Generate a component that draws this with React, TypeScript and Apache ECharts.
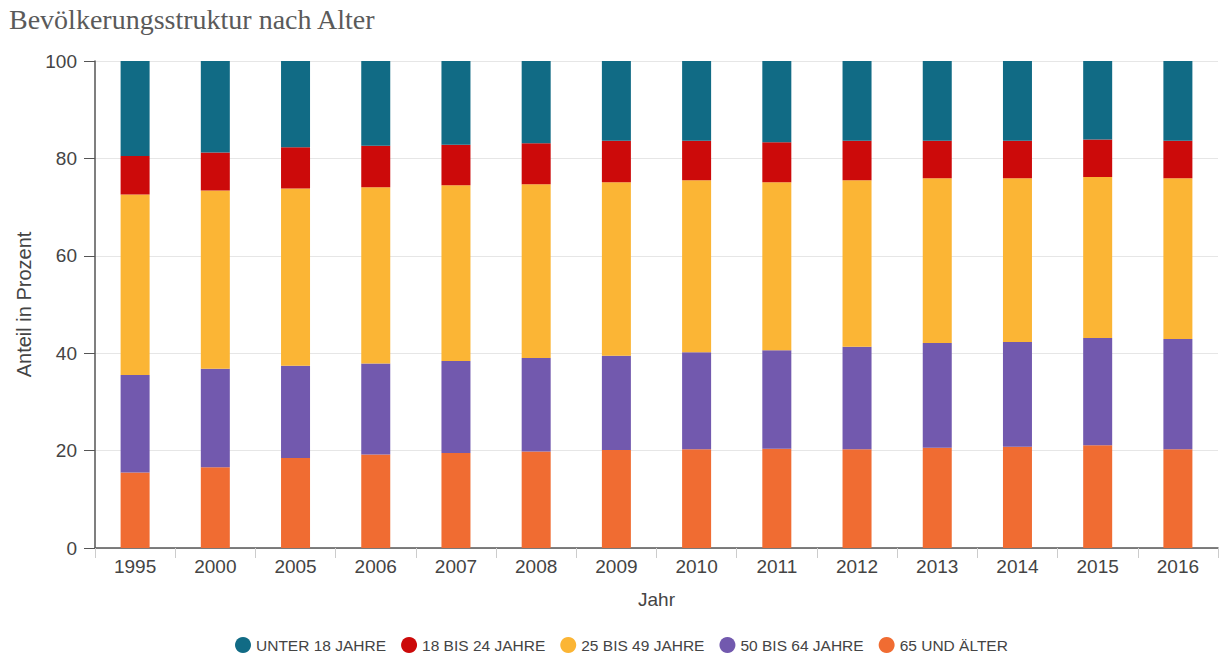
import React, { useEffect, useRef } from "react";
import * as echarts from "echarts";

const years = ["1995", "2000", "2005", "2006", "2007", "2008", "2009", "2010", "2011", "2012", "2013", "2014", "2015", "2016"];

// Shares in percent per age group (stacked bottom to top: 65+, 50–64, 25–49, 18–24, under 18)
const age65plus = [15.5, 16.6, 18.5, 19.2, 19.5, 19.8, 20.1, 20.3, 20.4, 20.3, 20.6, 20.8, 21.1, 20.3];
const age50to64 = [20.0, 20.2, 18.9, 18.7, 18.9, 19.2, 19.4, 19.9, 20.2, 21.0, 21.5, 21.5, 22.0, 22.6];
const age25to49 = [37.1, 36.6, 36.4, 36.2, 36.1, 35.7, 35.6, 35.3, 34.5, 34.2, 33.8, 33.6, 33.1, 33.0];
const age18to24 = [7.9, 7.8, 8.5, 8.5, 8.3, 8.4, 8.5, 8.1, 8.2, 8.1, 7.7, 7.7, 7.7, 7.7];
const under18 = [19.5, 18.8, 17.7, 17.4, 17.2, 16.9, 16.4, 16.4, 16.7, 16.4, 16.4, 16.4, 16.1, 16.4];

const yTicks = { min: 0, max: 100, interval: 20 };

const seriesDefs = [
  { name: "UNTER 18 JAHRE", data: under18, color: "#116B85" },
  { name: "18 BIS 24 JAHRE", data: age18to24, color: "#CC0A0A" },
  { name: "25 BIS 49 JAHRE", data: age25to49, color: "#FBB535" },
  { name: "50 BIS 64 JAHRE", data: age50to64, color: "#7259AE" },
  { name: "65 UND ÄLTER", data: age65plus, color: "#F06C32" },
];

export default function App() {
  const ref = useRef<HTMLDivElement>(null);

  useEffect(() => {
    if (!ref.current) return;
    const chart = echarts.init(ref.current, undefined, { renderer: "svg" });
    const font = "Arial, 'Liberation Sans', sans-serif";
    // bottom segment first so the stack builds upward
    const stackOrder = [...seriesDefs].reverse();
    chart.setOption({
      animation: false,
      backgroundColor: "#ffffff",
      title: {
        text: "Bevölkerungsstruktur nach Alter",
        left: 4,
        top: 0,
        textStyle: {
          fontFamily: "'Liberation Serif', 'Times New Roman', serif",
          fontWeight: "normal",
          fontSize: 28,
          color: "#5a5a5a",
        },
      },
      legend: {
        data: seriesDefs.map((s) => s.name),
        bottom: 0,
        left: 230,
        padding: [5, 5, 3, 5],
        icon: "circle",
        itemWidth: 16,
        itemHeight: 16,
        itemGap: 15,
        textStyle: { fontFamily: font, fontSize: 15.5, color: "#444" },
      },
      grid: { left: 95, right: 2, top: 61, bottom: 108, containLabel: false },
      xAxis: {
        type: "category",
        data: years,
        name: "Jahr",
        nameLocation: "middle",
        nameGap: 42,
        nameTextStyle: { fontFamily: font, fontSize: 19, color: "#444" },
        axisLine: { lineStyle: { color: "#555", width: 1.5 } },
        axisTick: { show: true, length: 10, lineStyle: { color: "#ccc" } },
        axisLabel: { fontFamily: font, fontSize: 19, color: "#444", margin: 9 },
      },
      yAxis: {
        type: "value",
        min: yTicks.min,
        max: yTicks.max,
        interval: yTicks.interval,
        name: "Anteil in Prozent",
        nameLocation: "middle",
        nameGap: 58,
        nameTextStyle: { fontFamily: font, fontSize: 20, color: "#444" },
        axisLine: { show: true, lineStyle: { color: "#555", width: 1.5 } },
        axisTick: { show: true, length: 11, lineStyle: { color: "#555" } },
        axisLabel: { fontFamily: font, fontSize: 19, color: "#444", margin: 18 },
        splitLine: { lineStyle: { color: "#e6e6e6" } },
      },
      series: stackOrder.map((s) => ({
        name: s.name,
        type: "bar",
        stack: "total",
        barWidth: 29,
        data: s.data,
        itemStyle: { color: s.color },
      })),
      color: seriesDefs.map((s) => s.color),
    });
    return () => chart.dispose();
  }, []);

  return (
    <div
      ref={ref}
      style={{ position: "fixed", left: 0, top: 0, width: 1220, height: 656 }}
    />
  );
}
